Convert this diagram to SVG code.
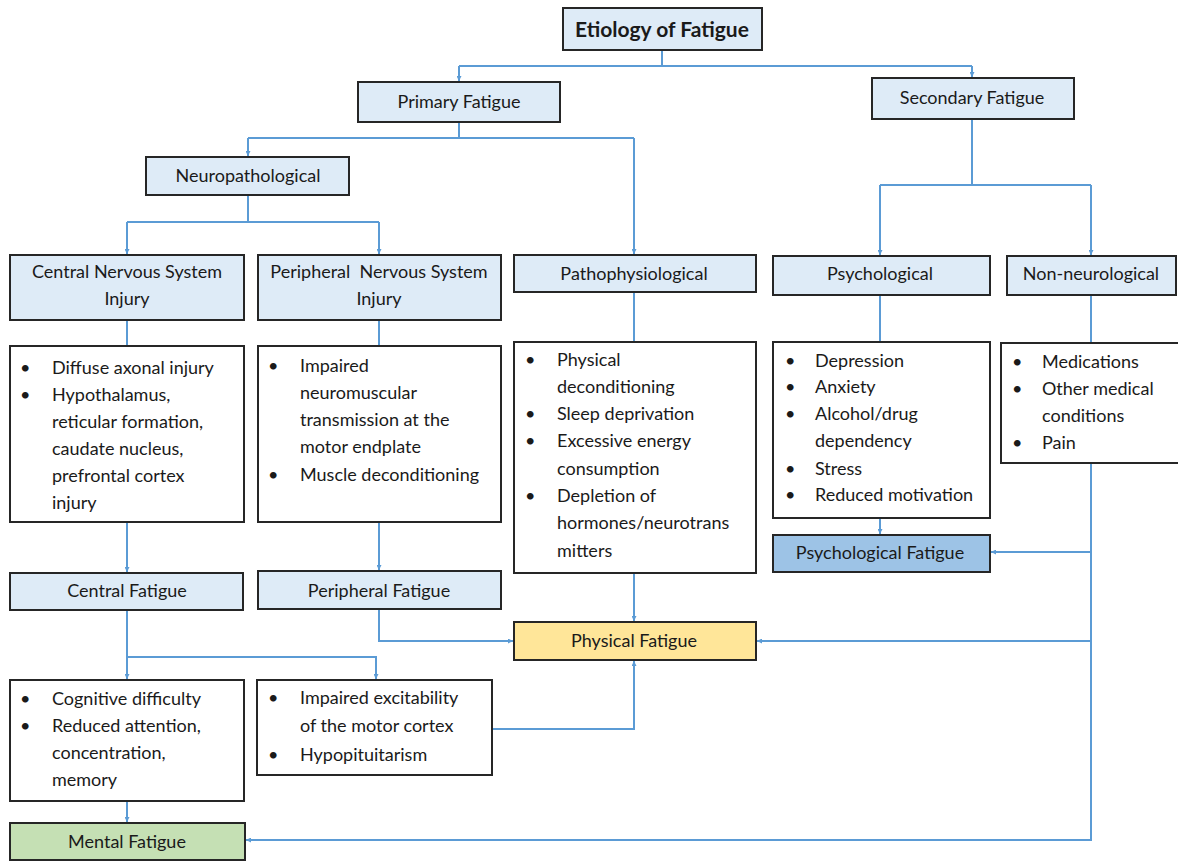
<svg xmlns="http://www.w3.org/2000/svg" width="1178" height="862" viewBox="0 0 1178 862">
<defs>
<marker id="ah" viewBox="0 0 10 10" refX="10" refY="5" markerWidth="5" markerHeight="5" orient="auto" markerUnits="userSpaceOnUse">
<path d="M0,0 L10,5 L0,10 z" fill="#5B9BD5"/>
</marker>
<style>
.box{stroke:#262626;stroke-width:2}
.hd{fill:#DEEBF7}
.wt{fill:#FFFFFF}
.t{font-family:Lato,"Liberation Sans",sans-serif;font-size:18px;fill:#1a1a1a}
.c{text-anchor:middle}
.b{font-weight:bold;font-size:21px}
.cn{fill:none;stroke:#5B9BD5;stroke-width:2}
</style>
</defs>
<rect width="1178" height="862" fill="#FFFFFF"/>
<g id="connectors" class="cn">
<path d="M662,50 V66 M459,66 H972"/>
<path d="M459,66 V81" marker-end="url(#ah)"/>
<path d="M972,66 V77" marker-end="url(#ah)"/>
<path d="M459,122 V138 M248,138 H634"/>
<path d="M248,138 V156" marker-end="url(#ah)"/>
<path d="M634,138 V254" marker-end="url(#ah)"/>
<path d="M248,195 V222 M127,222 H379"/>
<path d="M127,222 V254" marker-end="url(#ah)"/>
<path d="M379,222 V254" marker-end="url(#ah)"/>
<path d="M972,119 V185 M880,185 H1091"/>
<path d="M880,185 V255" marker-end="url(#ah)"/>
<path d="M1091,185 V255" marker-end="url(#ah)"/>
<path d="M127,320 V346 M379,320 V346 M634,292 V342 M880,295 V342 M1091,295 V343"/>
<path d="M127,522 V572" marker-end="url(#ah)"/>
<path d="M379,522 V570" marker-end="url(#ah)"/>
<path d="M634,573 V621" marker-end="url(#ah)"/>
<path d="M379,609 V641 H513" marker-end="url(#ah)"/>
<path d="M880,518 V534" marker-end="url(#ah)"/>
<path d="M1091,463 V840 H246" marker-end="url(#ah)"/>
<path d="M1091,552 H991" marker-end="url(#ah)"/>
<path d="M1091,641 H757" marker-end="url(#ah)"/>
<path d="M127,610 V679" marker-end="url(#ah)"/>
<path d="M127,657 H376 V679" marker-end="url(#ah)"/>
<path d="M492,729 H634 V661" marker-end="url(#ah)"/>
<path d="M127,801 V822" marker-end="url(#ah)"/>
</g>
<g id="etiology"><rect class="box hd" x="563" y="8" width="199" height="42"/><text class="t c b" x="662" y="37">Etiology of Fatigue</text></g>
<g id="primary"><rect class="box hd" x="358" y="82" width="202" height="40"/><text class="t c" x="459" y="108">Primary Fatigue</text></g>
<g id="secondary"><rect class="box hd" x="872" y="78" width="202" height="41"/><text class="t c" x="972" y="104">Secondary Fatigue</text></g>
<g id="neuropathological"><rect class="box hd" x="146" y="157" width="203" height="38"/><text class="t c" x="248" y="182">Neuropathological</text></g>
<g id="cns"><rect class="box hd" x="10" y="255" width="234" height="65"/><text class="t c" x="127" y="278">Central Nervous System</text><text class="t c" x="127" y="305">Injury</text></g>
<g id="pns"><rect class="box hd" x="258" y="255" width="243" height="65"/><text class="t c" x="379" y="278" xml:space="preserve">Peripheral  Nervous System</text><text class="t c" x="379" y="305">Injury</text></g>
<g id="pathophysiological"><rect class="box hd" x="514" y="255" width="242" height="37"/><text class="t c" x="634" y="280">Pathophysiological</text></g>
<g id="psychological"><rect class="box hd" x="773" y="256" width="217" height="39"/><text class="t c" x="880" y="280">Psychological</text></g>
<g id="nonneurological"><rect class="box hd" x="1007" y="256" width="169" height="39"/><text class="t c" x="1091" y="280">Non-neurological</text></g>
<g id="cns-list"><rect class="box wt" x="10" y="346" width="234" height="176"/>
<g class="t"><text x="20" y="374">•</text><text x="52" y="374">Diffuse axonal injury</text><text x="20" y="401">•</text><text x="52" y="401">Hypothalamus,</text><text x="52" y="428">reticular formation,</text><text x="52" y="455">caudate nucleus,</text><text x="52" y="482">prefrontal cortex</text><text x="52" y="509">injury</text></g></g>
<g id="pns-list"><rect class="box wt" x="258" y="346" width="243" height="176"/>
<g class="t"><text x="268" y="372">•</text><text x="300" y="372">Impaired</text><text x="300" y="399">neuromuscular</text><text x="300" y="426">transmission at the</text><text x="300" y="453">motor endplate</text><text x="268" y="481">•</text><text x="300" y="481">Muscle deconditioning</text></g></g>
<g id="patho-list"><rect class="box wt" x="514" y="342" width="242" height="231"/>
<g class="t"><text x="525" y="366">•</text><text x="557" y="366">Physical</text><text x="557" y="393">deconditioning</text><text x="525" y="420">•</text><text x="557" y="420">Sleep deprivation</text><text x="525" y="447">•</text><text x="557" y="447">Excessive energy</text><text x="557" y="475">consumption</text><text x="525" y="502">•</text><text x="557" y="502">Depletion of</text><text x="557" y="529">hormones/neurotrans</text><text x="557" y="557">mitters</text></g></g>
<g id="psych-list"><rect class="box wt" x="773" y="342" width="217" height="176"/>
<g class="t"><text x="785" y="367">•</text><text x="815" y="367">Depression</text><text x="785" y="393">•</text><text x="815" y="393">Anxiety</text><text x="785" y="420">•</text><text x="815" y="420">Alcohol/drug</text><text x="815" y="447">dependency</text><text x="785" y="475">•</text><text x="815" y="475">Stress</text><text x="785" y="501">•</text><text x="815" y="501">Reduced motivation</text></g></g>
<g id="nonneuro-list"><rect class="box wt" x="1001" y="343" width="178" height="120"/>
<g class="t"><text x="1012" y="368">•</text><text x="1042" y="368">Medications</text><text x="1012" y="395">•</text><text x="1042" y="395">Other medical</text><text x="1042" y="422">conditions</text><text x="1012" y="449">•</text><text x="1042" y="449">Pain</text></g></g>
<g id="central-fatigue"><rect class="box hd" x="10" y="573" width="233" height="37"/><text class="t c" x="127" y="597">Central Fatigue</text></g>
<g id="peripheral-fatigue"><rect class="box hd" x="258" y="571" width="243" height="38"/><text class="t c" x="379" y="597">Peripheral Fatigue</text></g>
<g id="physical-fatigue"><rect class="box" fill="#FFE699" x="514" y="622" width="242" height="38"/><text class="t c" x="634" y="647">Physical Fatigue</text></g>
<g id="psychological-fatigue"><rect class="box" fill="#9DC3E6" x="773" y="535" width="217" height="37"/><text class="t c" x="880" y="559">Psychological Fatigue</text></g>
<g id="cognitive-list"><rect class="box wt" x="10" y="680" width="234" height="121"/>
<g class="t"><text x="20" y="705">•</text><text x="52" y="705">Cognitive difficulty</text><text x="20" y="732">•</text><text x="52" y="732">Reduced attention,</text><text x="52" y="759">concentration,</text><text x="52" y="786">memory</text></g></g>
<g id="motor-list"><rect class="box wt" x="257" y="680" width="235" height="95"/>
<g class="t"><text x="268" y="704">•</text><text x="300" y="704">Impaired excitability</text><text x="300" y="732">of the motor cortex</text><text x="268" y="761">•</text><text x="300" y="761">Hypopituitarism</text></g></g>
<g id="mental-fatigue"><rect class="box" fill="#C5E0B4" x="10" y="823" width="235" height="37"/><text class="t c" x="127" y="848">Mental Fatigue</text></g>
</svg>
